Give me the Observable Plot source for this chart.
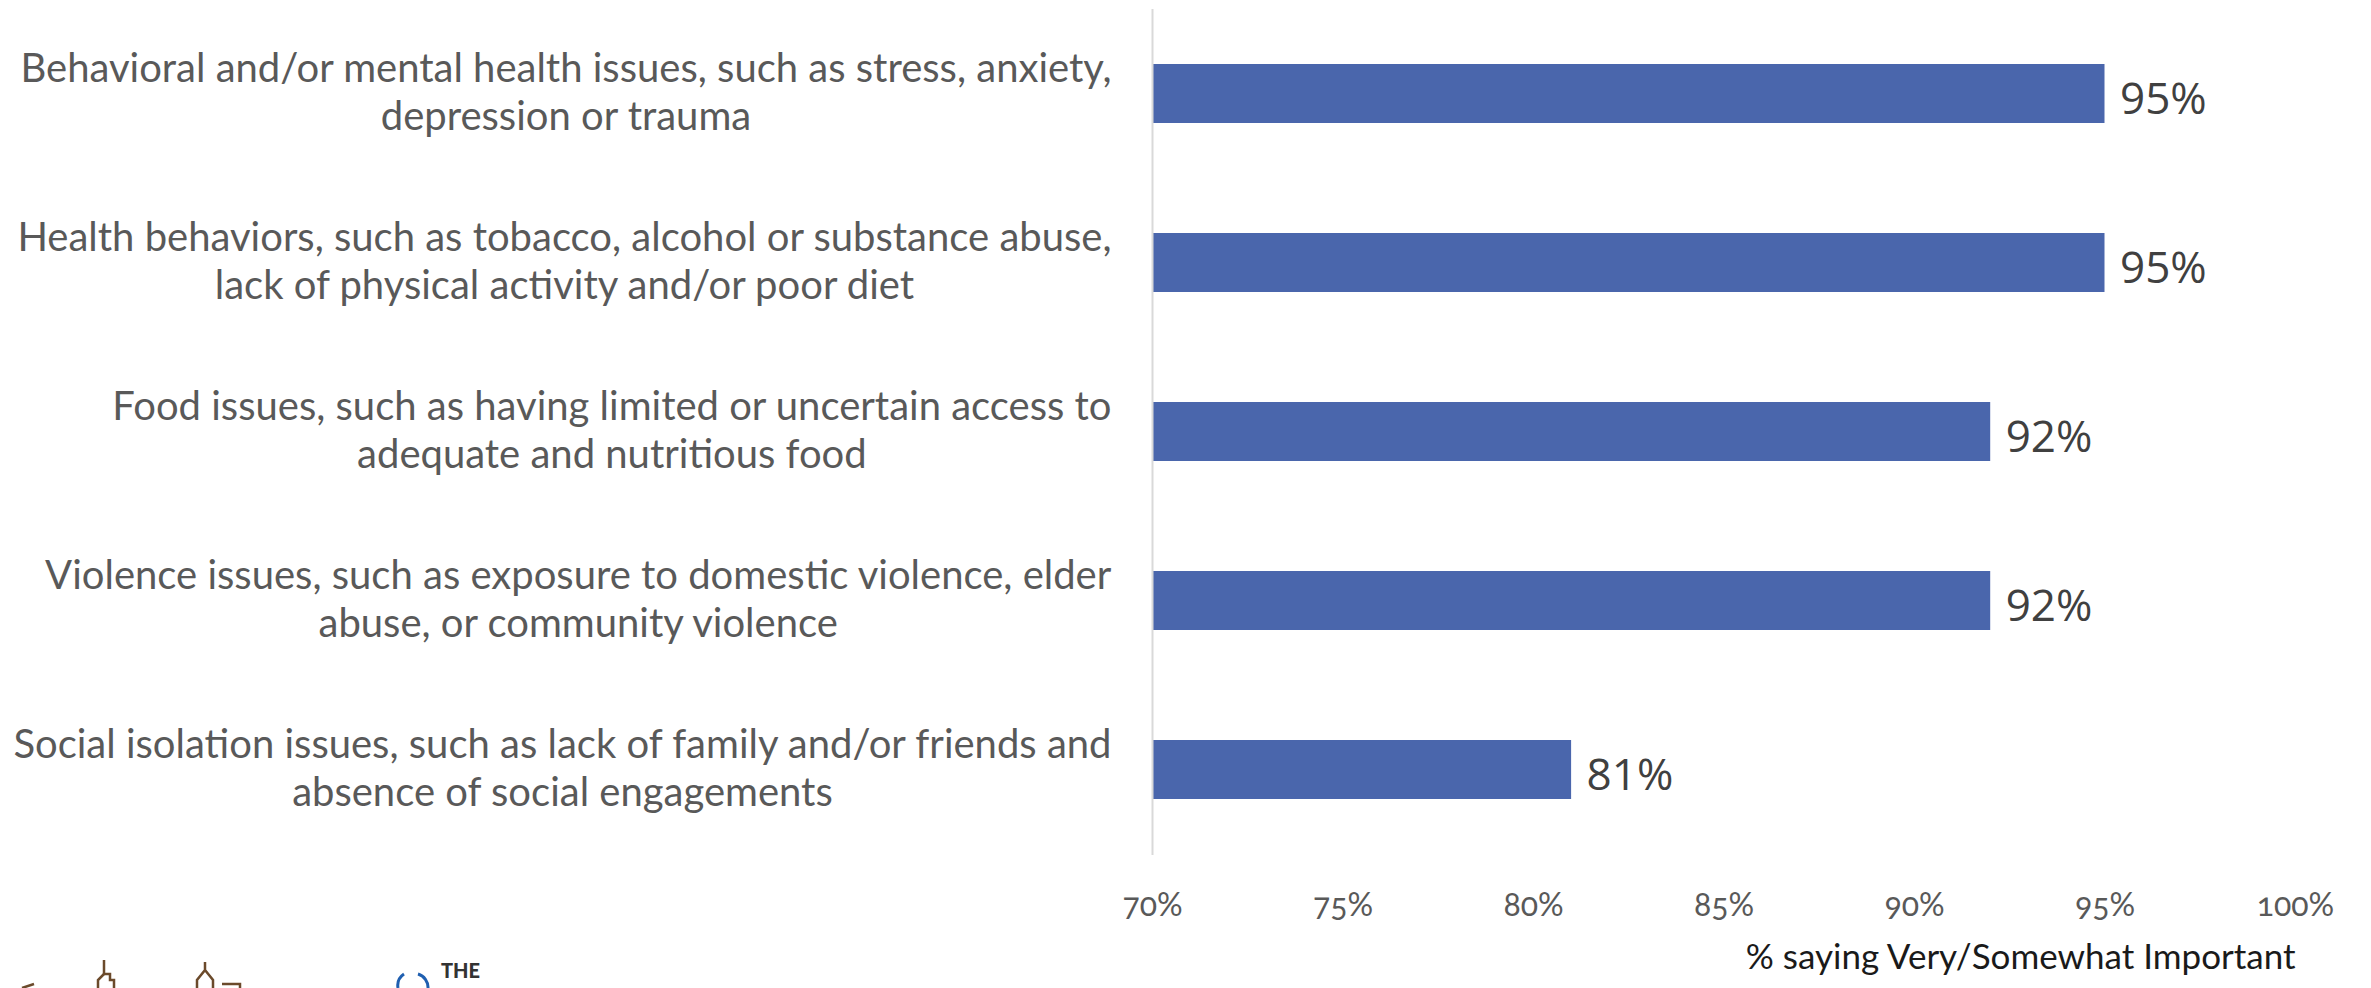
<!DOCTYPE html>
<html>
<head>
<meta charset="utf-8">
<script src="https://cdn.jsdelivr.net/npm/d3@7"></script>
<script src="https://cdn.jsdelivr.net/npm/@observablehq/plot@0.6"></script>
<style>
  html, body { margin: 0; padding: 0; background: #fff; }
  body { width: 2371px; height: 988px; overflow: hidden; position: relative; font-family: Lato, "Open Sans", sans-serif; }
  #chart svg { display: block; }
  g[aria-label="x-axis tick label"] text { font-variant-numeric: oldstyle-nums; }
  #logo { position: absolute; left: 0; top: 940px; }
</style>
</head>
<body>
<div id="chart"></div>
<svg id="logo" width="600" height="48" viewBox="0 0 600 48">
  <g fill="none" stroke="#6b4a2b" stroke-width="2.5">
    <path d="M22 48 L34 44"/>
    <path d="M104 20 L104 34 L110 34 L110 40 L114 40 L114 48"/>
    <path d="M104 34 L98 40 L98 48"/>
    <path d="M205 22 L205 30 L197 40 L197 48 M205 30 L213 40 L213 48"/>
    <path d="M222 44 L240 44 L240 48"/>
  </g>
  <g fill="none" stroke="#1f5fb0" stroke-width="3">
    <path d="M398 48 A14 14 0 0 1 404 34"/>
    <path d="M418 34 A14 14 0 0 1 428 48"/>
  </g>
  <text x="441" y="38" font-family="Lato, sans-serif" font-weight="900" font-size="20" fill="#333">THE</text>
</svg>
<script>
// ---- data ----
const categories = [
  "Behavioral and/or mental health issues, such as stress, anxiety,\ndepression or trauma",
  "Health behaviors, such as tobacco, alcohol or substance abuse,\nlack of physical activity and/or poor diet",
  "Food issues, such as having limited or uncertain access to\nadequate and nutritious food",
  "Violence issues, such as exposure to domestic violence, elder\nabuse, or community violence",
  "Social isolation issues, such as lack of family and/or friends and\nabsence of social engagements"
];
const values = [95, 95, 92, 92, 81];
const xTicks = [70, 75, 80, 85, 90, 95, 100];
const xLabel = "% saying Very/Somewhat Important";
const xMin = 70, xMax = 100;

const data = categories.map((c, i) => ({category: c, value: values[i], base: xMin}));

const chart = Plot.plot({
  width: 2371,
  height: 988,
  marginTop: 9,
  marginBottom: 133,
  marginLeft: 1152,
  marginRight: 76,
  style: {fontFamily: "Lato, 'Open Sans', sans-serif", background: "#fff"},
  x: {domain: [xMin, xMax], ticks: xTicks, tickFormat: d => d + "%"},
  y: {domain: categories, paddingInner: 0.65, paddingOuter: 0.325, axis: null},
  marks: [
    Plot.barX(data, {x1: "base", x2: "value", y: "category", fill: "#4a66ac"}),
    Plot.ruleX([xMin], {stroke: "#d9d9d9", strokeWidth: 2}),
    Plot.text(data, {
      x: "value", y: "category", text: d => d.value + "%",
      textAnchor: "start", dx: 15, dy: 6,
      fontSize: 44, fill: "#404040", fontFamily: "'Open Sans', sans-serif"
    }),
    Plot.text(data, {
      x: "base", y: "category", text: "category",
      textAnchor: "middle", dx: -41, dy: -3, lineHeight: 1.2,
      fontSize: 40, fill: "#595959", className: "catlabel"
    }),
    Plot.axisX({
      ticks: xTicks, tickFormat: d => d + "%",
      tickSize: 0, tickPadding: 38, fontSize: 32, color: "#595959",
      label: null
    }),
    Plot.text([xLabel], {
      x: () => xMax, frameAnchor: "bottom", text: d => d,
      textAnchor: "end", dy: 113, fontSize: 35, fill: "#1a1a1a"
    })
  ]
});
document.getElementById("chart").appendChild(chart);

// center each multi-line category label within a right-aligned block
chart.querySelectorAll(".catlabel text").forEach(t => {
  const w = t.getBBox().width;
  const tr = t.getAttribute("transform") || "";
  t.setAttribute("transform", tr + ` translate(${-w / 2},0)`);
});
</script>
</body>
</html>
